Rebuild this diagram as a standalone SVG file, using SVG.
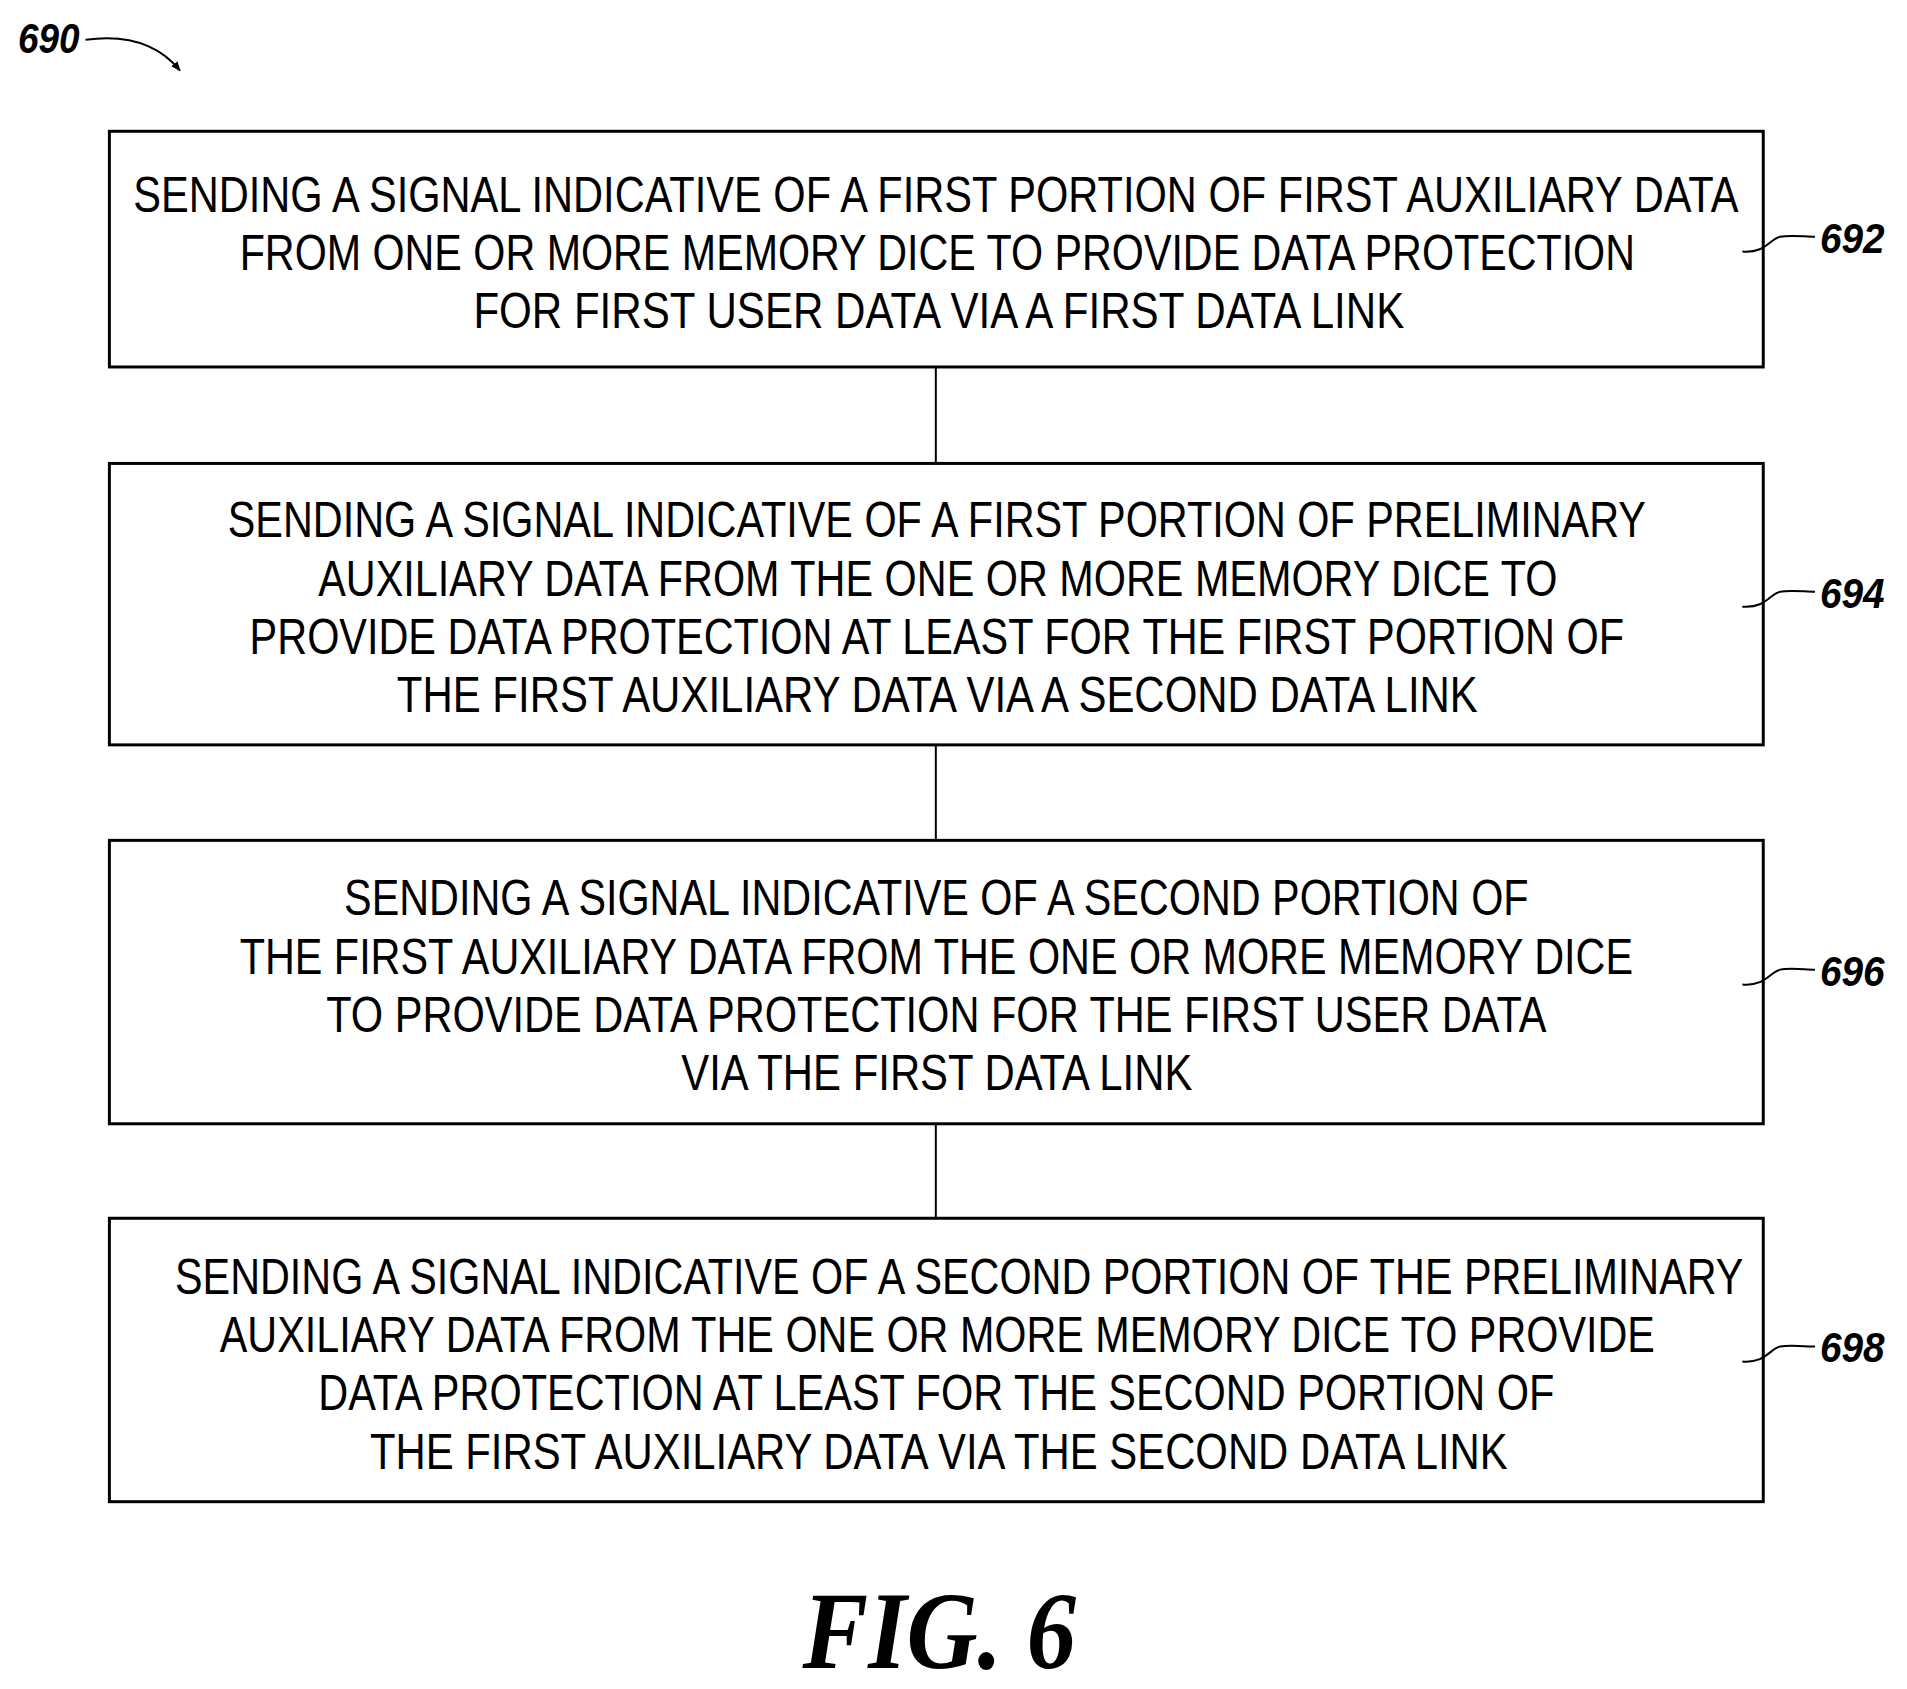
<svg xmlns="http://www.w3.org/2000/svg" width="1907" height="1689" viewBox="0 0 1907 1689">
<style>
.box{fill:#fff;stroke:#000;stroke-width:3}
.t{font-family:"Liberation Sans",Arial,sans-serif;font-size:50px;fill:#000}
.ref{font-family:"Liberation Sans",Arial,sans-serif;font-size:42px;font-style:italic;font-weight:bold;fill:#000}
.ld{fill:none;stroke:#000;stroke-width:2}
</style>
<defs><marker id="ah" viewBox="0 0 10 10" refX="9" refY="5" markerWidth="10" markerHeight="10" orient="auto" markerUnits="userSpaceOnUse"><path d="M0,1 L10,5 L0,9 Z" fill="#000"/></marker></defs>
<rect width="1907" height="1689" fill="#fff"/>
<g transform="scale(0.9945)">
<g id="connectors" stroke="#000" stroke-width="2">
<line x1="941" y1="369" x2="941" y2="466"/>
<line x1="941" y1="749" x2="941" y2="845"/>
<line x1="941" y1="1130" x2="941" y2="1225"/>
</g>
<g id="label690">
<text class="ref" x="18" y="53" textLength="62" lengthAdjust="spacingAndGlyphs">690</text>
<path class="ld" d="M86,40 C130,34 160,45 181,71" marker-end="url(#ah)"/>
</g>
<g id="n692">
<rect class="box" x="110" y="132" width="1663" height="237"/>
<text class="t" x="134" y="213" textLength="1614" lengthAdjust="spacingAndGlyphs">SENDING A SIGNAL INDICATIVE OF A FIRST PORTION OF FIRST AUXILIARY DATA</text>
<text class="t" x="241" y="271" textLength="1403" lengthAdjust="spacingAndGlyphs">FROM ONE OR MORE MEMORY DICE TO PROVIDE DATA PROTECTION</text>
<text class="t" x="476" y="330" textLength="936" lengthAdjust="spacingAndGlyphs">FOR FIRST USER DATA VIA A FIRST DATA LINK</text>
<path class="ld" d="M1752,253 C1775,255 1780,240 1790,238 C1800,236 1815,238 1825,238"/>
<text class="ref" x="1830" y="254" textLength="65" lengthAdjust="spacingAndGlyphs">692</text>
</g>
<g id="n694">
<rect class="box" x="110" y="466" width="1663" height="283"/>
<text class="t" x="229" y="540" textLength="1426" lengthAdjust="spacingAndGlyphs">SENDING A SIGNAL INDICATIVE OF A FIRST PORTION OF PRELIMINARY</text>
<text class="t" x="320" y="599" textLength="1246" lengthAdjust="spacingAndGlyphs">AUXILIARY DATA FROM THE ONE OR MORE MEMORY DICE TO</text>
<text class="t" x="251" y="658" textLength="1382" lengthAdjust="spacingAndGlyphs">PROVIDE DATA PROTECTION AT LEAST FOR THE FIRST PORTION OF</text>
<text class="t" x="399" y="716" textLength="1087" lengthAdjust="spacingAndGlyphs">THE FIRST AUXILIARY DATA VIA A SECOND DATA LINK</text>
<path class="ld" d="M1752,610 C1775,612 1780,597 1790,595 C1800,593 1815,595 1825,595"/>
<text class="ref" x="1830" y="611" textLength="65" lengthAdjust="spacingAndGlyphs">694</text>
</g>
<g id="n696">
<rect class="box" x="110" y="845" width="1663" height="285"/>
<text class="t" x="346" y="920" textLength="1191" lengthAdjust="spacingAndGlyphs">SENDING A SIGNAL INDICATIVE OF A SECOND PORTION OF</text>
<text class="t" x="241" y="979" textLength="1401" lengthAdjust="spacingAndGlyphs">THE FIRST AUXILIARY DATA FROM THE ONE OR MORE MEMORY DICE</text>
<text class="t" x="328" y="1038" textLength="1227" lengthAdjust="spacingAndGlyphs">TO PROVIDE DATA PROTECTION FOR THE FIRST USER DATA</text>
<text class="t" x="685" y="1096" textLength="514" lengthAdjust="spacingAndGlyphs">VIA THE FIRST DATA LINK</text>
<path class="ld" d="M1752,990 C1775,992 1780,977 1790,975 C1800,973 1815,975 1825,975"/>
<text class="ref" x="1830" y="991" textLength="65" lengthAdjust="spacingAndGlyphs">696</text>
</g>
<g id="n698">
<rect class="box" x="110" y="1225" width="1663" height="285"/>
<text class="t" x="176" y="1301" textLength="1577" lengthAdjust="spacingAndGlyphs">SENDING A SIGNAL INDICATIVE OF A SECOND PORTION OF THE PRELIMINARY</text>
<text class="t" x="221" y="1359" textLength="1443" lengthAdjust="spacingAndGlyphs">AUXILIARY DATA FROM THE ONE OR MORE MEMORY DICE TO PROVIDE</text>
<text class="t" x="320" y="1418" textLength="1243" lengthAdjust="spacingAndGlyphs">DATA PROTECTION AT LEAST FOR THE SECOND PORTION OF</text>
<text class="t" x="372" y="1477" textLength="1144" lengthAdjust="spacingAndGlyphs">THE FIRST AUXILIARY DATA VIA THE SECOND DATA LINK</text>
<path class="ld" d="M1752,1369 C1775,1371 1780,1356 1790,1354 C1800,1352 1815,1354 1825,1354"/>
<text class="ref" x="1830" y="1370" textLength="65" lengthAdjust="spacingAndGlyphs">698</text>
</g>
<text x="807" y="1677" font-family="Liberation Serif,serif" font-size="110" font-style="italic" font-weight="bold" textLength="275" lengthAdjust="spacingAndGlyphs">FIG. 6</text>
</g>
</svg>
